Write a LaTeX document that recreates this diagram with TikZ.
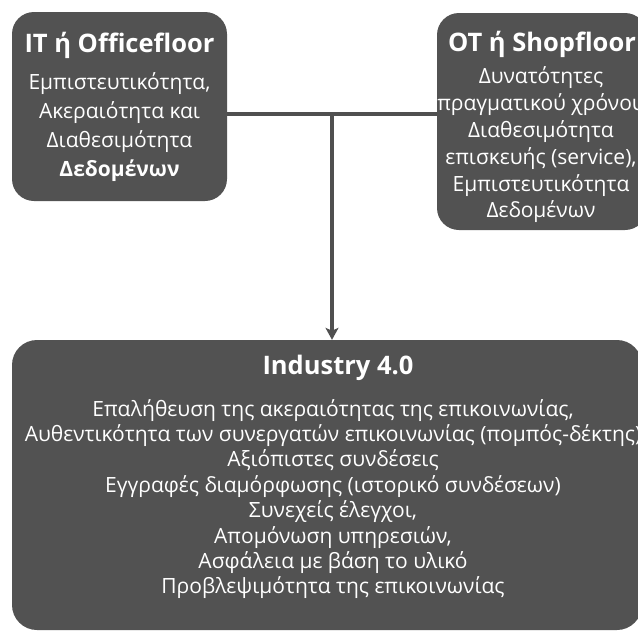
\documentclass[tikz,border=0pt]{standalone}
\usepackage{fontspec}
\setmainfont{Open Sans}
\usetikzlibrary{arrows.meta}
\definecolor{boxgray}{HTML}{525252}
\definecolor{linegray}{HTML}{505050}
\tikzset{
  panel/.style={fill=boxgray, draw=none, rounded corners=22pt, inner sep=0pt},
  heading/.style={text=white, font=\fontsize{25.5}{30}\selectfont\bfseries, inner sep=0pt, anchor=center},
  bodytext/.style={text=white, align=center, inner sep=0pt, anchor=center},
  conn/.style={draw=linegray, line width=3.2pt},
}
\begin{document}
\begin{tikzpicture}[x=1pt,y=-1pt]
\useasboundingbox (0,0) rectangle (638,632);
\clip (0,0) rectangle (638,632);

% boxes
\node[panel, minimum width=215pt, minimum height=189pt] (it) at (119.5,106.5) {};
\node[panel, minimum width=210pt, minimum height=217pt] (ot) at (542,121.5) {};
\node[panel, minimum width=630pt, minimum height=290pt, rounded corners=25pt] (ind) at (327,485) {};

% IT box text
\node[heading] (itT) at (119.5,45) {IT ή Officefloor};
\node[bodytext, font=\fontsize{21}{28.8}\selectfont] (itB) at (119.5,127) {Εμπιστευτικότητα,\\Ακεραιότητα και\\Διαθεσιμότητα\\\textbf{Δεδομένων}};

% OT box text
\node[heading] (otT) at (542,44) {OT ή Shopfloor};
\node[bodytext, font=\fontsize{21}{26.8}\selectfont] (otB) at (541,145) {Δυνατότητες\\πραγματικού χρόνου\\Διαθεσιμότητα\\επισκευής (service),\\Εμπιστευτικότητα\\Δεδομένων};

% Industry 4.0 box text
\node[heading] (indT) at (338,368) {Industry 4.0};
\node[bodytext, font=\fontsize{21}{25.4}\selectfont] (indB) at (333,499) {Επαλήθευση της ακεραιότητας της επικοινωνίας,\\Αυθεντικότητα των συνεργατών επικοινωνίας (πομπός-δέκτης)\\Αξιόπιστες συνδέσεις\\Εγγραφές διαμόρφωσης (ιστορικό συνδέσεων)\\Συνεχείς έλεγχοι,\\Απομόνωση υπηρεσιών,\\Ασφάλεια με βάση το υλικό\\Προβλεψιμότητα της επικοινωνίας};

% connectors
\coordinate (j) at (332,114);
\draw[conn] (it.east |- j) -- (ot.west |- j);
\draw[conn, -{Stealth[length=12pt,width=13pt,inset=3pt]}] (j) -- (j |- ind.north);
\end{tikzpicture}
\end{document}
